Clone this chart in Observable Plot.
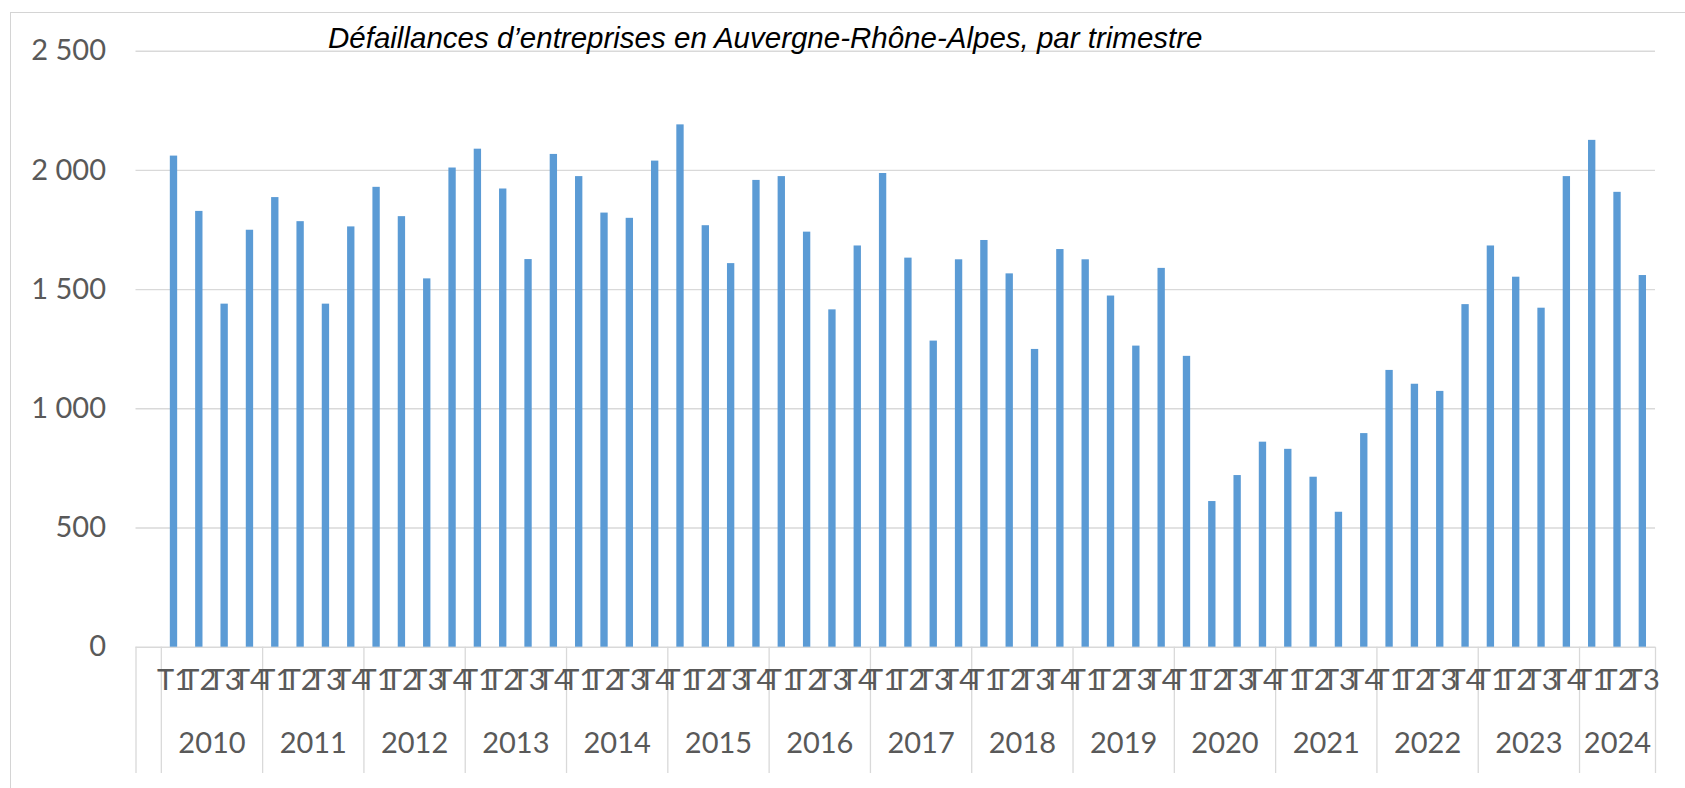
<!DOCTYPE html>
<html>
<head>
<meta charset="utf-8">
<script src="https://cdn.jsdelivr.net/npm/d3@7"></script>
<script src="https://cdn.jsdelivr.net/npm/@observablehq/plot@0.6"></script>
<style>
  html, body { margin: 0; padding: 0; background: #fff; }
  #wrap { position: relative; width: 1685px; height: 788px; overflow: hidden; }
  #frame { position: absolute; left: 9.5px; top: 11.5px; width: 3000px; height: 3000px;
           border-left: 1px solid #d4d4d4; border-top: 1px solid #d4d4d4; pointer-events: none; }
  #title { position: absolute; left: 328px; top: 23.3px; white-space: nowrap;
           font: italic 29.5px "Liberation Sans", Arial, sans-serif; line-height: 29.5px; color: #000; }
</style>
</head>
<body>
<div id="wrap">
  <div id="chart"></div>
  <div id="frame"></div>
  <div id="title">Défaillances d’entreprises en Auvergne-Rhône-Alpes, par trimestre</div>
</div>
<script>
// ---- Data ----
const years = ["2010","2011","2012","2013","2014","2015","2016","2017","2018","2019","2020","2021","2022","2023","2024"];
const quarterLabels = ["T1","T2","T3","T4"];
// Company failures per quarter, 2010 T1 -> 2024 T3
const failures = [
  2060, 1828, 1439, 1749,   // 2010
  1886, 1785, 1439, 1763,   // 2011
  1929, 1806, 1545, 2010,   // 2012
  2089, 1922, 1626, 2067,   // 2013
  1974, 1821, 1799, 2039,   // 2014
  2191, 1768, 1609, 1958,   // 2015
  1974, 1741, 1415, 1683,   // 2016
  1987, 1632, 1284, 1625,   // 2017
  1706, 1566, 1249, 1668,   // 2018
  1625, 1473, 1263, 1589,   // 2019
  1220,  611,  720,  860,   // 2020
   830,  713,  566,  896,   // 2021
  1161, 1103, 1073, 1437,   // 2022
  1683, 1552, 1422, 1974,   // 2023
  2126, 1908, 1559          // 2024
];
const yTicks = [0, 500, 1000, 1500, 2000, 2500];
const leadingBlankCategories = 1; // the source axis has one empty category before 2010 T1

// ---- Derived tables ----
const rows = failures.map((value, i) => ({
  pos: i + leadingBlankCategories,
  year: years[Math.floor(i / 4)],
  quarter: quarterLabels[i % 4],
  value
}));
const yearRows = years.map(year => {
  const r = rows.filter(d => d.year === year);
  return {
    year,
    center: d3.mean(r, d => d.pos),
    start: d3.min(r, d => d.pos) - 0.5,
    end: d3.max(r, d => d.pos) + 0.5
  };
});
const boundaries = [-0.5, ...yearRows.map(d => d.start), yearRows[yearRows.length - 1].end];
const nCategories = rows.length + leadingBlankCategories;

const fmt = d3.formatLocale({decimal: ",", thousands: "\u00a0", grouping: [3], currency: ["", ""]}).format(",");

const gray = "#d9d9d9";
const labelGray = "#595959";
const barBlue = "#5b9bd5";
const fontSize = 29;

const chart = Plot.plot({
  width: 1685,
  height: 788,
  marginLeft: 135.5,
  marginRight: 30,
  marginTop: 50.7,
  marginBottom: 141.3,
  style: {background: "transparent", fontFamily: "Lato, 'Open Sans', sans-serif", color: labelGray},
  x: {type: "linear", domain: [-0.5, nCategories - 0.5], axis: null},
  y: {domain: [0, 2500], axis: null},
  marks: [
    Plot.ruleY(yTicks, {y: d => d, stroke: gray, strokeWidth: 1.4}),
    Plot.ruleX(boundaries, {x: d => d, y1: 0, y2: 0, insetBottom: -126.3, stroke: gray, strokeWidth: 1.3}),
    Plot.rectY(rows, {x1: d => d.pos - 0.145, x2: d => d.pos + 0.145, y: "value", fill: barBlue}),
    Plot.text(yTicks, {y: d => d, text: d => fmt(d), frameAnchor: "left", textAnchor: "end", dx: -30,
                       fontSize, fill: labelGray}),
    Plot.text(rows, {x: "pos", text: "quarter", frameAnchor: "bottom", dy: 42.3, fontSize, fill: labelGray}),
    Plot.text(yearRows, {x: "center", text: "year", frameAnchor: "bottom", dy: 105.8, fontSize, fill: labelGray})
  ]
});
document.getElementById("chart").appendChild(chart);
</script>
</body>
</html>
